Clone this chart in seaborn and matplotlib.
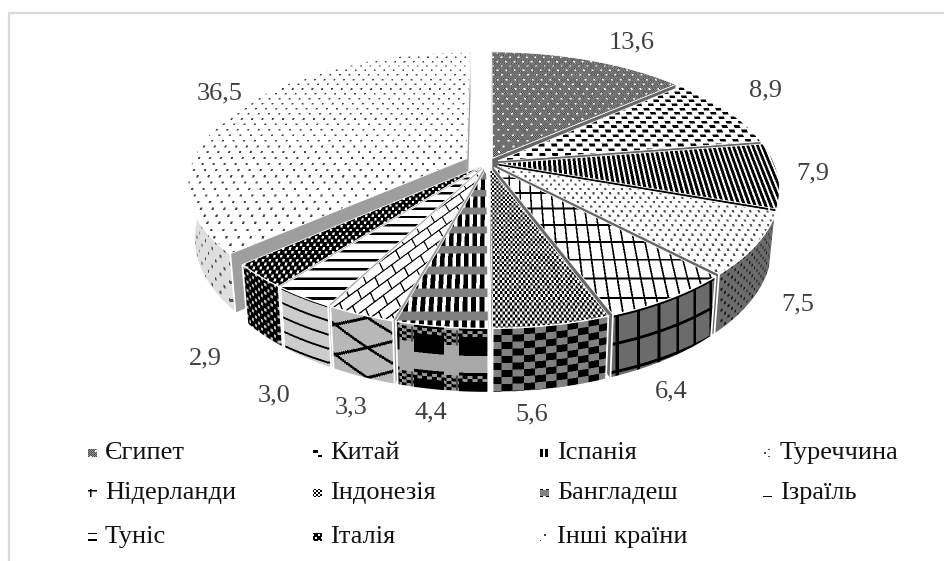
import numpy as np
import matplotlib
matplotlib.use("Agg")
import matplotlib.pyplot as plt
import seaborn as sns
from matplotlib.patches import Polygon

countries = ["Єгипет", "Китай", "Іспанія", "Туреччина", "Нідерланди", "Індонезія",
             "Бангладеш", "Ізраїль", "Туніс", "Італія", "Інші країни"]
shares = [13.6, 8.9, 7.9, 7.5, 6.4, 5.6, 4.4, 3.3, 3.0, 2.9, 36.5]
value_labels = ["13,6", "8,9", "7,9", "7,5", "6,4", "5,6", "4,4", "3,3", "3,0", "2,9", "36,5"]

sns.set_theme(style="white")
plt.rcParams['font.family'] = ['Liberation Serif', 'DejaVu Serif']

fig = plt.figure(figsize=(9.45, 5.61), dpi=100)
ax = fig.add_axes([0, 0, 1, 1])

# camera of the fake 3d pie
cx, y0, R, A, k, H = 488, 163, 275, 128, 0.187, 52


def project(s, c, bottom=False):
    w = 1 + k * c
    x = cx + R * s / w * (0.98 if bottom else 1)
    y = y0 - A * c / w + (H / w if bottom else 0)
    return x, y


def top_map(px, py):
    t = (y0 - py) / A
    c = t / (1 - k * t)
    s = (px - cx) * (1 + k * c) / R
    return s * R, -c * A


def flat_map(px, py):
    return px, py


def fill(pts, tile, mapper, z, bg=1.0, fg=0.0, scale=1.0, rot=0):
    pts = np.asarray(pts)
    x0, x1 = int(pts[:, 0].min()) - 1, int(pts[:, 0].max()) + 2
    y1, y2 = int(pts[:, 1].min()) - 1, int(pts[:, 1].max()) + 2
    gx, gy = np.meshgrid(np.arange(x0, x1, .5) + .25, np.arange(y1, y2, .5) + .25)
    u, v = mapper(gx, gy)
    if rot:
        a = np.radians(rot)
        u, v = u * np.cos(a) - v * np.sin(a), u * np.sin(a) + v * np.cos(a)
    h, w = tile.shape
    i = np.floor(v / scale).astype(int) % h
    j = np.floor(u / scale).astype(int) % w
    img = fg + (bg - fg) * tile[i, j]
    img = img.reshape(y2 - y1, 2, x1 - x0, 2).mean(axis=(1, 3))
    im = ax.imshow(img, cmap="gray", vmin=0, vmax=1, extent=(x0, x1, y2, y1),
                   aspect="auto", interpolation="nearest", zorder=z)
    im.set_clip_path(Polygon(pts, transform=ax.transData))


def dots(w, h, dw, dh):
    t = np.ones((h, w))
    t[:dh, :dw] = 0
    t[h // 2:h // 2 + dh, w // 2:w // 2 + dw] = 0
    return t


# pattern fills, 0 = ink, 1 = background
ii, jj = np.indices((12, 10))
egypt = 0.28 + 0.32 * ((ii + jj) % 2)
egypt[:2, :2] = 1
egypt[6:8, 5:7] = 1
china = dots(13, 10, 6, 3)
spain = np.ones((1, 5))
spain[0, :3] = 0
turkey = dots(8, 8, 2, 2)
netherlands = np.ones((28, 20))
netherlands[:3, :] = 0
netherlands[:, :3] = 0
indonesia = np.zeros((4, 4))
indonesia[:2, :2] = 1
indonesia[2:, 2:] = 1
indonesia_wall = np.ones((14, 18))
indonesia_wall[:7, :9] = 0
indonesia_wall[7:, 9:] = 0
bangla = np.ones((16, 7))
bangla[:, :4] = 0
bangla[10:, :] = 0.5
ii, jj = np.indices((45, 37))
bangla_wall = np.ones((45, 37))
bangla_wall[:28, 10:35] = 0
weave = (ii >= 3) & (ii < 18) & ((jj < 10) | (jj >= 35) | (ii < 9))
bangla_wall[weave] = ((ii[weave] // 3 + jj[weave] // 4) % 2) * 0.9
bricks = np.ones((16, 16))
bricks[[0, 8], :] = 0
bricks[:8, 0] = 0
bricks[8:, 8] = 0
ii, jj = np.indices((30, 60))
lattice = np.ones((30, 60))
lattice[((2 * ii - jj) % 60 < 6) | ((2 * ii + jj) % 60 < 6)] = 0
tunis = np.ones((7, 1))
tunis[:2] = 0
tunis_wall = np.ones((14, 1))
tunis_wall[:2] = 0
italy = 1 - dots(6, 6, 2, 2)
others = dots(11, 12, 2, 2)

top_style = [
    dict(tile=egypt), dict(tile=china), dict(tile=spain), dict(tile=turkey, fg=0.3),
    dict(tile=netherlands, scale=0.5), dict(tile=indonesia), dict(tile=bangla),
    dict(tile=bricks, rot=35), dict(tile=tunis), dict(tile=italy), dict(tile=others, fg=0.25),
]
wall_style = [
    dict(tile=egypt, bg=0.45), dict(tile=china, bg=0.5), dict(tile=spain, bg=0.4),
    dict(tile=turkey, bg=0.42, fg=0.1, scale=1.3), dict(tile=netherlands, bg=0.42, scale=1),
    dict(tile=indonesia_wall, bg=0.5), dict(tile=bangla_wall, bg=0.66),
    dict(tile=lattice, bg=0.72), dict(tile=tunis_wall, bg=0.8),
    dict(tile=italy, bg=0.75, scale=1.4), dict(tile=others, bg=0.87, fg=0.3, scale=1.5),
]
cut_grey = [0.4, 0.4, 0.0, 0.4, 0.4, 0.4, 0.55, 0.6, 0.6, 0.6, 0.62]
explode = [0.04] * 10 + [0.085]

edges = np.radians(np.cumsum([0] + shares) * 3.6)
mids = (edges[:-1] + edges[1:]) / 2
z = 1
for n in np.argsort(-np.cos(mids)):
    a, b = edges[n], edges[n + 1]
    ex, ey = explode[n] * np.sin(mids[n]), explode[n] * np.cos(mids[n])
    th = np.linspace(a, b, 80)
    arc = np.c_[project(np.sin(th) + ex, np.cos(th) + ey)]
    apex = np.array(project(ex, ey))
    apex_low = np.array(project(ex, ey, True))
    # cut faces
    for t in (a, b):
        p = project(np.sin(t) + ex, np.cos(t) + ey)
        q = project(np.sin(t) + ex, np.cos(t) + ey, True)
        ax.add_patch(Polygon([apex, p, q, apex_low], fc=str(cut_grey[n]), ec="none", zorder=z))
        z += 1
    # outer wall, only the part that faces the viewer
    lo, hi = max(a, np.pi / 2), min(b, 3 * np.pi / 2)
    if hi > lo:
        tw = np.linspace(lo, hi, 80)
        wt = np.c_[project(np.sin(tw) + ex, np.cos(tw) + ey)]
        wb = np.c_[project(np.sin(tw) + ex, np.cos(tw) + ey, True)]
        order = np.argsort(wt[:, 0])

        def wall_map(px, py, wt=wt, tw=tw, order=order):
            u = np.interp(px, wt[order, 0], tw[order]) * R
            return u, py - np.interp(px, wt[order, 0], wt[order, 1])

        poly = np.r_[wt, wb[::-1]]
        fill(poly, mapper=wall_map, z=z, **wall_style[n])
        z += 1
        ax.add_patch(Polygon(poly, fill=False, ec="white", lw=1.3, zorder=z))
        z += 1
    # top face
    poly = np.r_[[apex], arc]
    fill(poly, mapper=top_map, z=z, **top_style[n])
    z += 1
    ax.add_patch(Polygon(poly, fill=False, ec="white", lw=0.6, zorder=z))
    z += 1

label_xy = [(632, 42), (766, 90), (813, 173), (798, 304), (671, 391), (532, 414),
            (431, 412), (351, 407), (274, 395), (205, 358), (220, 93)]
for txt, (x, y) in zip(value_labels, label_xy):
    ax.text(x, y, txt, fontsize=19, color="#404040", ha="center", va="center", zorder=z)

# legend, filled row by row
col_x = [88, 313, 540, 763]
row_y = [453, 493, 537]
for n, name in enumerate(countries):
    x, y = col_x[n % 4], row_y[n // 4]
    st = {key: val for key, val in top_style[n].items() if key in ("tile", "fg", "scale")}
    fill([(x, y - 4), (x + 9, y - 4), (x + 9, y + 4), (x, y + 4)], mapper=flat_map, z=z, **st)
    ax.text(x + 17, y, name, fontsize=19, color="#111111", ha="left", va="center", zorder=z)

# the picture frame only shows on top and left
ax.plot([9, 9, 945], [561, 13, 13], color="#d9d9d9", lw=1.6, zorder=z)

ax.set_xlim(0, 945)
ax.set_ylim(561, 0)
ax.axis("off")
fig.savefig("out.png", dpi=100)
